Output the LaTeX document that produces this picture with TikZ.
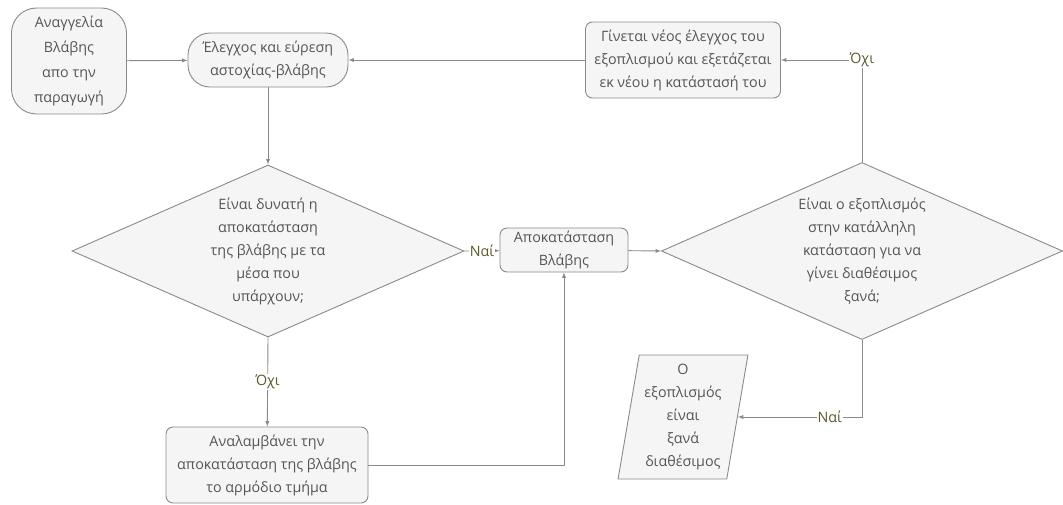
\documentclass[tikz,border=0pt]{standalone}
\usepackage{fontspec}
\setmainfont{Open Sans}
\usepackage{xcolor}
\usepackage{tikz}
\usetikzlibrary{calc}
\usetikzlibrary{arrows}
\usetikzlibrary{shapes}
\usetikzlibrary{shapes.geometric}

\definecolor{linegray}{HTML}{8A8A8A}
\definecolor{boxfill}{HTML}{F5F5F5}
\definecolor{textgray}{HTML}{555555}
\definecolor{labolive}{HTML}{5C5A2E}

\tikzset{
  box/.style={rectangle, rounded corners=7pt, draw=linegray, fill=boxfill, text=textgray, align=center, inner sep=0pt},
  decision/.style={diamond, aspect=2.28, draw=linegray, fill=boxfill, text=textgray, align=center, inner sep=-6pt},
  flow/.style={-latex, draw=linegray, line width=0.9pt},
  answer/.style={fill=white, text=labolive, inner sep=1pt}
}

\begin{document}
\begin{tikzpicture}[x=1pt, y=-1pt, font=\fontsize{14.3}{23}\selectfont, line width=0.9pt]
\useasboundingbox (0, 0) rectangle (1063, 504);
\node [box, rounded corners=25pt, minimum width=115pt, minimum height=106pt, font=\fontsize{14.3}{25}\selectfont] (report) at (69, 61) {Αναγγελία\\Βλάβης\\απο την\\παραγωγή};
\node [box, rounded corners=22pt, minimum width=160pt, minimum height=54pt] (check) at (268, 60) {Έλεγχος και εύρεση\\αστοχίας-βλάβης};
\node [box, minimum width=195pt, minimum height=76pt] (recheck) at (683, 60) {Γίνεται νέος έλεγχος του\\εξοπλισμού και εξετάζεται\\εκ νέου η κατάστασή του};
\node [decision, minimum width=392pt, minimum height=172pt] (possible) at (268, 251) {Είναι δυνατή η\\αποκατάσταση\\της βλάβης με τα\\μέσα που\\υπάρχουν;};
\node [box, minimum width=128pt, minimum height=44pt] (repair) at (564, 250) {Αποκατάσταση\\Βλάβης};
\node [decision, minimum width=401pt, minimum height=177pt] (ready) at (862, 251) {Είναι ο εξοπλισμός\\στην κατάλληλη\\κατάσταση για να\\γίνει διαθέσιμος\\ξανά;};
\node [box, minimum width=202pt, minimum height=76pt] (dept) at (267, 465) {Αναλαμβάνει την\\αποκατάσταση της βλάβης\\το αρμόδιο τμήμα};
\node [trapezium, trapezium left angle=80, trapezium right angle=100, trapezium stretches=true, draw=linegray, fill=boxfill, text=textgray, align=center, inner sep=0pt, minimum width=130pt, minimum height=124pt] (avail) at (683, 417) {Ο\\εξοπλισμός\\είναι\\ξανά\\διαθέσιμος};
\draw [flow] (report) to (check);
\draw [flow] (recheck) to (check);
\draw [flow] (check) to (possible);
\draw [flow] (possible.east) to node [answer] {Ναί} (repair);
\draw [flow] (possible.south) to node [answer] {Όχι} (dept);
\draw [flow] (dept.east) -| (repair.south);
\draw [flow] (repair) to (ready.west);
\draw [flow] (ready.north) |- node [answer] {Όχι} (recheck.east);
\draw [flow] (ready.south) |- node [answer, pos=0.63] {Ναί} (avail.east);
\end{tikzpicture}
\end{document}
